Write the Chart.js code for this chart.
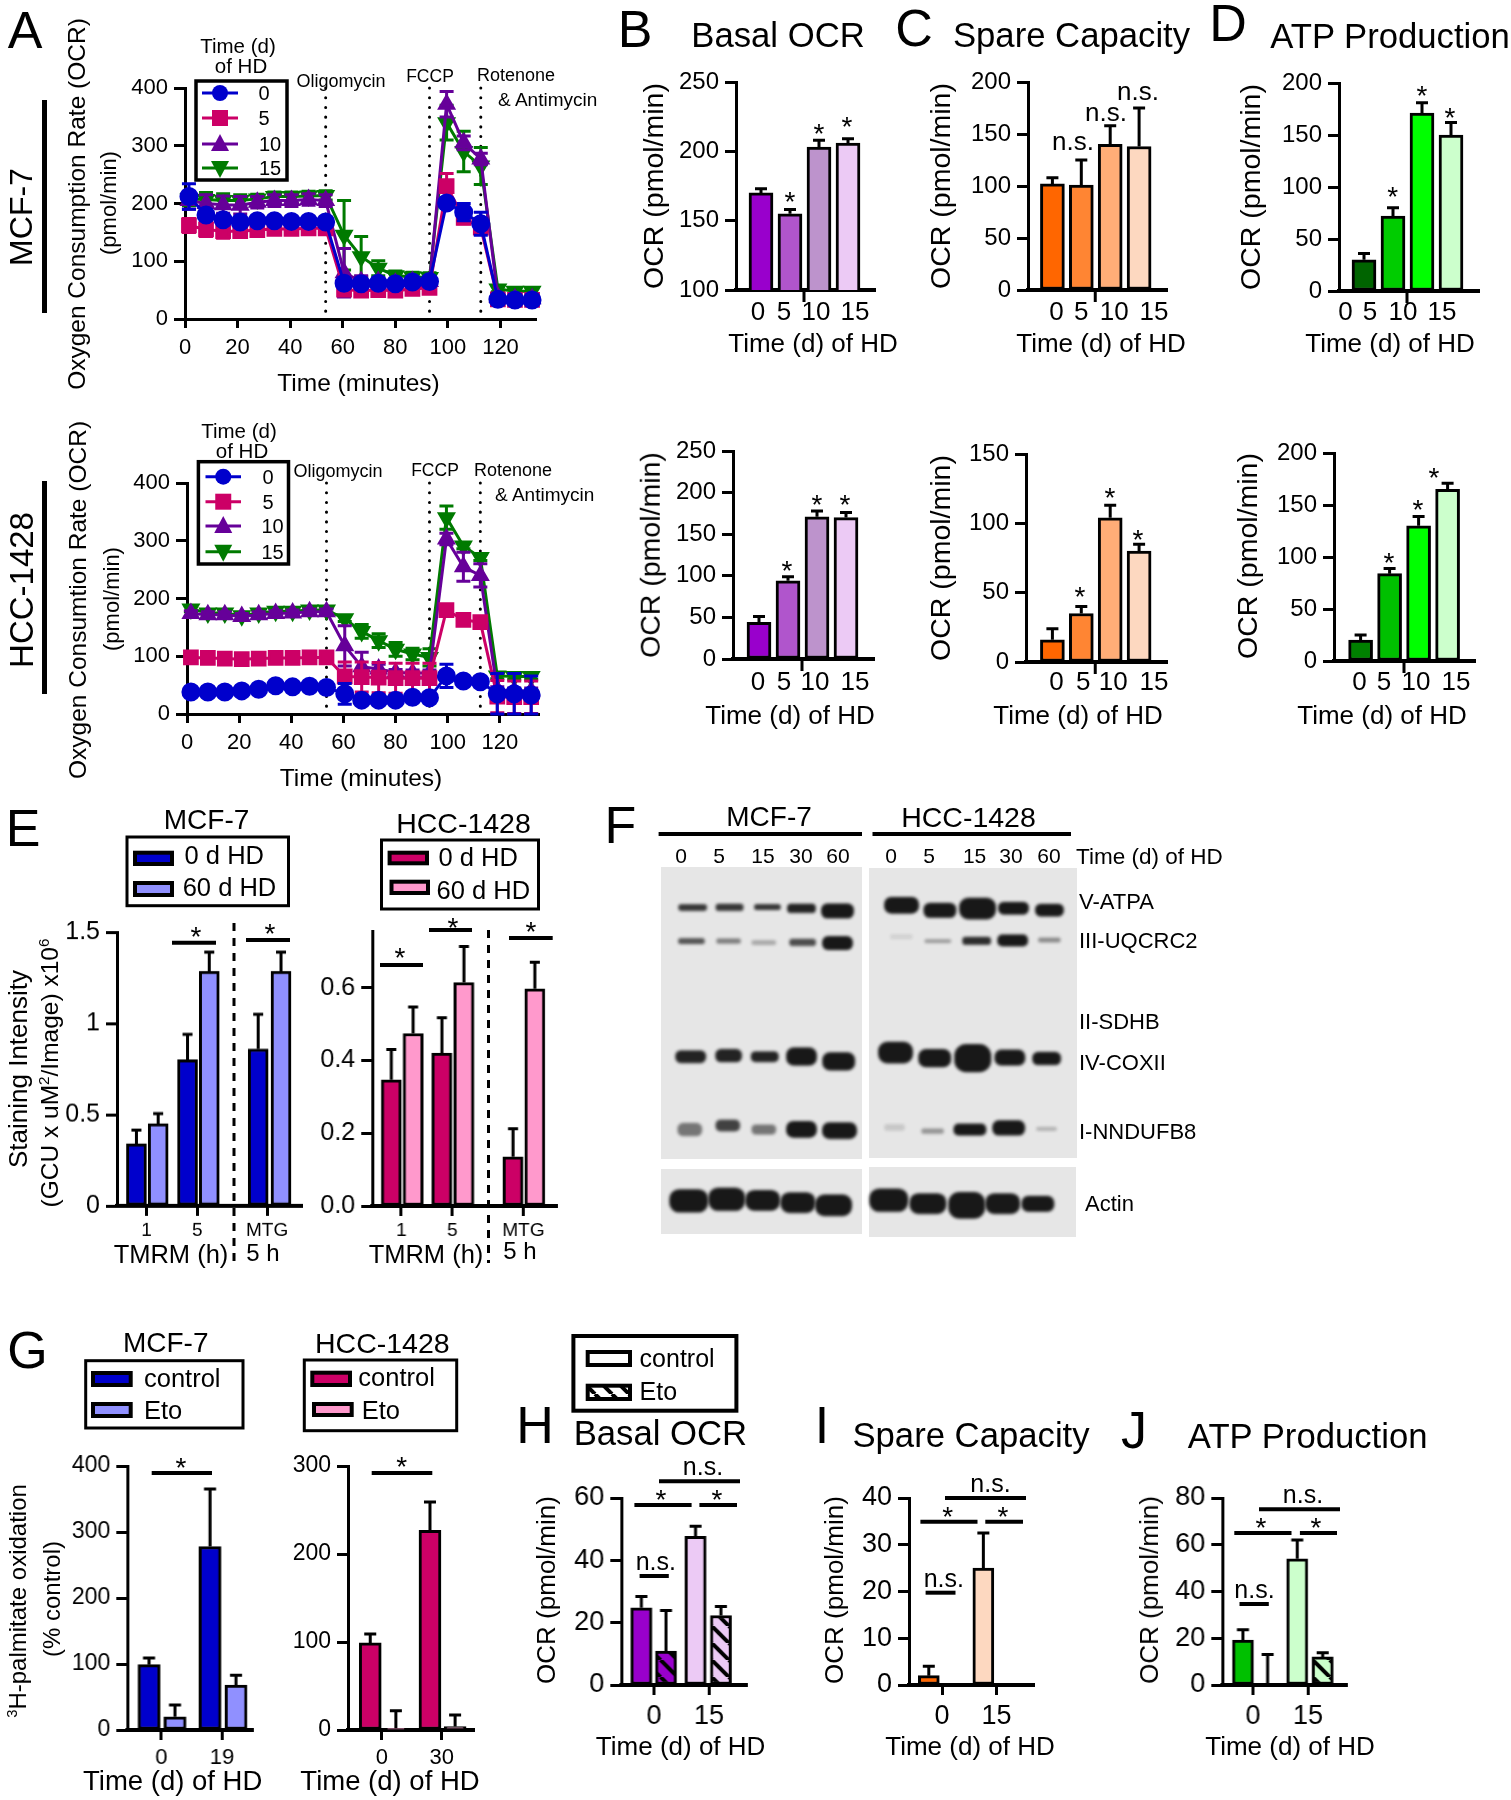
<!DOCTYPE html>
<html>
<head>
<meta charset="utf-8">
<title>Mitochondrial respiration panels</title>
<script src="https://cdn.jsdelivr.net/npm/chart.js@4"></script>
<style>
  html, body { margin: 0; background: #fff; }
  #page { position: relative; width: 1511px; height: 1800px; overflow: hidden; font-family: "Liberation Sans", Arial, sans-serif; color: #000; }
  #page canvas { position: absolute; }
  .t { position: absolute; white-space: nowrap; line-height: 1; }
  .t sup { font-size: .62em; line-height: 0; }
  .blot { position: absolute; background: #e6e6e6; }
</style>
</head>
<body>
<div id="page"></div>
<script>
// seahorse traces, panel A
const seahorseTimes = [1.5, 8, 14.5, 21, 27.5, 34, 40.5, 47, 53.5, 60.5, 67, 73.5, 80, 86.5, 93, 99.5, 106, 112.5, 119, 125.5, 132];
const injectionTimes = [53.5, 93, 112.5];
const hdDays = ["0", "5", "10", "15"];

const mcfTrace0 = [212, 180, 172, 168, 170, 170, 169, 169, 168, 62, 61, 62, 61, 64, 65, 201, 185, 165, 34, 33, 33];
const mcfErr0 = [22, 8, 6, 5, 5, 5, 5, 5, 5, 5, 5, 5, 5, 5, 5, 5, 15, 20, 3, 3, 3];
const mcfTrace5 = [162, 155, 152, 152, 154, 156, 156, 157, 157, 51, 49, 50, 49, 52, 54, 230, 175, 158, 34, 33, 33];
const mcfErr5 = [12, 12, 12, 10, 8, 8, 8, 8, 8, 5, 5, 5, 5, 5, 5, 22, 10, 10, 5, 5, 5];
const mcfTrace10 = [205, 200, 198, 197, 202, 205, 205, 207, 205, 80, 65, 65, 62, 65, 65, 372, 305, 277, 38, 35, 35];
const mcfErr10 = [15, 15, 15, 15, 10, 10, 10, 10, 10, 42, 10, 6, 6, 6, 6, 22, 12, 10, 3, 3, 3];
const mcfTrace15 = [208, 207, 205, 205, 208, 212, 212, 213, 214, 145, 108, 88, 75, 73, 72, 340, 290, 265, 52, 48, 48];
const mcfErr15 = [12, 12, 12, 10, 8, 8, 8, 8, 8, 60, 35, 13, 8, 8, 8, 30, 35, 32, 5, 5, 5];

const hccTrace0 = [38, 38, 38, 40, 43, 49, 47, 48, 46, 35, 24, 24, 24, 29, 28, 66, 57, 56, 35, 35, 33];
const hccErr0 = [3, 3, 3, 3, 3, 3, 3, 3, 3, 18, 5, 3, 3, 3, 3, 20, 5, 5, 35, 35, 33];
const hccTrace5 = [98, 97, 96, 95, 96, 97, 97, 98, 98, 65, 64, 63, 62, 62, 62, 180, 163, 159, 30, 29, 29];
const hccErr5 = [3, 3, 3, 3, 3, 3, 3, 3, 3, 25, 26, 26, 26, 26, 26, 5, 5, 5, 28, 28, 28];
const hccTrace10 = [174, 172, 172, 169, 172, 174, 175, 177, 177, 118, 82, 78, 72, 71, 71, 303, 255, 240, 42, 40, 40];
const hccErr10 = [5, 5, 5, 5, 5, 5, 5, 5, 5, 35, 25, 8, 5, 5, 5, 10, 25, 20, 5, 5, 5];
const hccTrace15 = [182, 175, 175, 170, 175, 178, 178, 180, 180, 165, 143, 127, 112, 104, 98, 340, 291, 271, 66, 65, 65];
const hccErr15 = [5, 5, 5, 5, 5, 5, 5, 5, 5, 5, 12, 12, 12, 10, 15, 20, 5, 5, 5, 5, 5];

// bars, panels B C D
const basalMcf = [170, 155, 203, 206];
const basalMcfErr = [3, 3, 5, 3];
const spareMcf = [102, 101, 140, 138];
const spareMcfErr = [6, 24, 18, 37];
const atpMcf = [30, 72, 171, 150];
const atpMcfErr = [6, 8, 10, 12];
const basalHcc = [44, 94, 171, 170];
const basalHccErr = [7, 5, 7, 6];
const spareHcc = [16, 35, 104, 80];
const spareHccErr = [8, 5, 9, 5];
const atpHcc = [20, 84, 130, 165];
const atpHccErr = [5, 5, 9, 6];

// panel E
const tmrmLabels = ["1", "5", "MTG"];
const stainMcf = [0.34, 0.45, 0.8, 1.285, 0.86, 1.285];
const stainMcfErr = [0.075, 0.055, 0.14, 0.105, 0.19, 0.105];
const stainHcc = [0.347, 0.474, 0.42, 0.614, 0.135, 0.597];
const stainHccErr = [0.083, 0.073, 0.097, 0.099, 0.077, 0.073];

// panel G
const palmMcf = [99, 20, 278, 68];
const palmMcfErr = [10, 18, 87, 15];
const palmHcc = [99, 2, 227, 4];
const palmHccErr = [10, 20, 32, 13];

// panels H I J
const basalEto = [24.8, 10.9, 47.7, 22.3];
const basalEtoErr = [3.6, 13, 3.2, 2.9];
const spareEto = [2, 0, 25, 0];
const spareEtoErr = [2, 0, 7.5, 0];
const atpEto = [19.2, 0, 54, 12];
const atpEtoErr = [4.4, 13, 8, 1.8];

// western blot, panel F: position on the film, band size and density
const vatpaX = [215, 307, 402, 487, 577, 737, 833, 927, 1017, 1107];
const vatpaY = [340, 340, 338, 343, 350, 333, 348, 343, 342, 348];
const vatpaW = [70, 68, 65, 70, 80, 85, 80, 90, 75, 70];
const vatpaH = [20, 22, 18, 28, 45, 50, 45, 65, 38, 38];
const vatpaD = [0.85, 0.85, 0.85, 0.95, 1, 1, 1, 1, 1, 1];
const uqcrcX = [212, 305, 393, 490, 577, 737, 828, 925, 1015, 1107];
const uqcrcY = [443, 444, 448, 448, 449, 430, 443, 442, 441, 440];
const uqcrcW = [65, 60, 60, 65, 75, 55, 65, 70, 75, 55];
const uqcrcH = [18, 16, 14, 22, 42, 14, 12, 24, 36, 14];
const uqcrcD = [0.7, 0.5, 0.3, 0.75, 1, 0.1, 0.35, 0.9, 1, 0.45];
const coxX = [210, 305, 395, 487, 580, 722, 820, 915, 1008, 1100];
const coxY = [800, 797, 800, 800, 815, 787, 805, 805, 802, 806];
const coxW = [75, 65, 68, 75, 80, 85, 80, 90, 75, 70];
const coxH = [38, 40, 32, 55, 55, 65, 55, 85, 48, 40];
const coxD = [0.95, 0.95, 0.95, 1, 1, 1, 1, 1, 1, 1];
const ndufX = [208, 303, 393, 487, 582, 720, 815, 908, 1005, 1100];
const ndufY = [1025, 1012, 1024, 1024, 1028, 1018, 1030, 1024, 1020, 1022];
const ndufW = [60, 60, 60, 75, 85, 50, 55, 80, 80, 50];
const ndufH = [40, 35, 30, 50, 50, 20, 16, 36, 46, 12];
const ndufD = [0.55, 0.8, 0.55, 1, 1, 0.15, 0.4, 1, 1, 0.25];
const actinX = [205, 300, 390, 478, 567, 705, 803, 900, 990, 1078];
const actinY = [1245, 1240, 1243, 1250, 1258, 1243, 1253, 1258, 1253, 1253];
const actinW = [95, 90, 85, 85, 90, 95, 90, 90, 85, 80];
const actinH = [70, 70, 62, 62, 65, 70, 62, 80, 62, 48];
const actinD = [1, 1, 1, 1, 1, 1, 1, 1, 1, 1];

const BLUE = "#0000cc", BLUE_L = "#9090ff", PINK = "#cc0066", PINK_L = "#ff99cc", VIOLET = "#660099", FOREST = "#007a00";
const PURPLES = ["#9900cc", "#b055cc", "#bd93cc", "#eccaf5"];
const ORANGES = ["#ff6600", "#ff8533", "#ffad77", "#fdd8c0"];
const GREENS_TOP = ["#006400", "#00cc00", "#00ff00", "#ccffcc"];
const GREENS_LOW = ["#008000", "#00c000", "#00ff00", "#ccffcc"];

const page = document.getElementById("page");
Chart.defaults.font.family = '"Liberation Sans", Arial, sans-serif';
Chart.defaults.color = "#000";

function label(html, x, y, size, opt = {}) {
  const d = document.createElement("div");
  d.className = "t";
  d.innerHTML = html;
  d.style.left = x + "px";
  d.style.top = y + "px";
  d.style.fontSize = size + "px";
  let tf = opt.left ? "translate(0,-50%)" : "translate(-50%,-50%)";
  if (opt.rot) tf += " rotate(-90deg)";
  d.style.transform = tf;
  page.appendChild(d);
}
function star(x, y) { label("*", x, y + 5, 28); }

function addCanvas(x, y, w, h) {
  const c = document.createElement("canvas");
  c.width = w; c.height = h;
  c.style.left = x + "px"; c.style.top = y + "px";
  c.style.width = w + "px"; c.style.height = h + "px";
  page.appendChild(c);
  return c;
}

// keeps the plot area where the panel wants it
function fixedBox(prop, size) {
  return s => { s[prop] = size; s.paddingLeft = s.paddingRight = s.paddingTop = s.paddingBottom = 0; };
}
const PAD = { l: 80, r: 30, t: 25, b: 65 };

function baseOptions() {
  return {
    responsive: false, animation: false, devicePixelRatio: 1,
    layout: { padding: { left: 0, right: PAD.r, top: PAD.t, bottom: 0 } },
    plugins: { legend: { display: false }, tooltip: { enabled: false }, title: { display: false } }
  };
}

const seahorseMarks = {
  id: "seahorseMarks",
  beforeDatasetsDraw(chart) {
    const { ctx, scales: { x, y } } = chart;
    ctx.save();
    ctx.strokeStyle = "#000"; ctx.lineWidth = 3; ctx.lineCap = "round"; ctx.setLineDash([0.1, 9.6]);
    injectionTimes.forEach(t => {
      ctx.beginPath();
      ctx.moveTo(x.getPixelForValue(t), y.getPixelForValue(400));
      ctx.lineTo(x.getPixelForValue(t), y.getPixelForValue(0));
      ctx.stroke();
    });
    ctx.restore();
  },
  beforeDatasetDraw(chart, args) {
    const { ctx, scales: { x, y } } = chart;
    const ds = chart.data.datasets[args.index];
    ctx.save();
    ctx.strokeStyle = ds.borderColor; ctx.lineWidth = 3;
    ds.data.forEach((p, i) => {
      const e = ds.errs[i], px = x.getPixelForValue(p.x);
      const y1 = y.getPixelForValue(p.y + e), y2 = y.getPixelForValue(p.y - e);
      ctx.beginPath();
      ctx.moveTo(px, y1); ctx.lineTo(px, y2);
      ctx.moveTo(px - 7, y1); ctx.lineTo(px + 7, y1);
      ctx.moveTo(px - 7, y2); ctx.lineTo(px + 7, y2);
      ctx.stroke();
    });
    ctx.restore();
  }
};

function traceDataset(values, errs, color, style, rot) {
  return {
    data: values.map((v, i) => ({ x: seahorseTimes[i], y: v })), errs,
    borderColor: color, backgroundColor: color, borderWidth: 3, tension: 0, clip: false,
    pointStyle: style, pointRotation: rot || 0, pointRadius: style === "rect" ? 9 : 8,
    pointBorderColor: color, pointBackgroundColor: color
  };
}

function traceChart(p) {
  const c = addCanvas(p.left - PAD.l, p.top - PAD.t, p.right - p.left + PAD.l + PAD.r, p.bottom - p.top + PAD.t + PAD.b);
  const opts = baseOptions();
  opts.scales = {
    x: {
      type: "linear", min: 0, max: p.xMax, afterFit: fixedBox("height", PAD.b),
      ticks: { stepSize: 20, includeBounds: false, font: { size: 22 }, color: "#000", padding: 7, maxRotation: 0 },
      grid: { drawOnChartArea: false, tickLength: 9, tickWidth: 3, tickColor: "#000" },
      border: { width: 3, color: "#000" }
    },
    y: {
      min: 0, max: 400, afterFit: fixedBox("width", PAD.l),
      ticks: { stepSize: 100, font: { size: 22 }, color: "#000", padding: 6 },
      grid: { drawOnChartArea: false, tickLength: 11, tickWidth: 3, tickColor: "#000" },
      border: { width: 3, color: "#000" }
    }
  };
  new Chart(c, { type: "line", data: { datasets: p.datasets }, options: opts, plugins: [seahorseMarks] });
}

const barExtras = {
  id: "barExtras",
  afterDatasetsDraw(chart) {
    const { ctx, scales: { x, y } } = chart;
    const ds = chart.data.datasets[0];
    ctx.save();
    ctx.strokeStyle = "#000"; ctx.lineWidth = 3;
    ds.data.forEach((p, i) => {
      const e = ds.errs[i];
      if (!e) return;
      const px = x.getPixelForValue(p.x), y0 = y.getPixelForValue(p.y), y1 = y.getPixelForValue(p.y + e);
      ctx.beginPath();
      ctx.moveTo(px, y0); ctx.lineTo(px, y1);
      ctx.moveTo(px - ds.capW, y1); ctx.lineTo(px + ds.capW, y1);
      ctx.stroke();
    });
    if (ds.midTick !== undefined) {
      const mx = x.getPixelForValue(ds.midTick);
      ctx.beginPath();
      ctx.moveTo(mx, chart.chartArea.bottom); ctx.lineTo(mx, chart.chartArea.bottom + 12);
      ctx.stroke();
    }
    ctx.restore();
  }
};

function barChart(p) {
  const c = addCanvas(p.left - PAD.l, p.top - PAD.t, p.right - p.left + PAD.l + PAD.r, p.bottom - p.top + PAD.t + PAD.b);
  const toX = px => (px - p.first) / p.pitch;
  const tickVals = p.tickPx.map(toX);
  const tickLen = p.xTicks ? 10 : 0;
  const yFont = p.yFont || 24, xFont = p.xFont || 26;
  const opts = baseOptions();
  opts.scales = {
    x: {
      type: "linear", offset: false, min: toX(p.left), max: toX(p.right), afterFit: fixedBox("height", PAD.b),
      afterBuildTicks: s => { s.ticks = tickVals.map(v => ({ value: v })); },
      ticks: {
        callback: (v, i) => p.tickLabels[i], autoSkip: false, maxRotation: 0, minRotation: 0,
        font: { size: xFont }, color: "#000", padding: Math.max(0, p.labelY - p.bottom - tickLen - xFont * 0.6)
      },
      grid: { offset: false, drawOnChartArea: false, drawTicks: !!p.xTicks, tickLength: tickLen, tickWidth: 3, tickColor: "#000" },
      border: { width: p.axisW || 4, color: "#000" }
    },
    y: {
      min: p.yMin, max: p.yMax, afterFit: fixedBox("width", PAD.l),
      ticks: {
        stepSize: p.yStep, includeBounds: false, font: { size: yFont }, color: "#000", padding: 6,
        callback: p.yFormat || (v => String(v))
      },
      grid: { drawOnChartArea: false, tickLength: 11, tickWidth: 3, tickColor: "#000" },
      border: { width: 3, color: "#000" }
    }
  };
  new Chart(c, {
    type: "bar",
    data: {
      datasets: [{
        data: p.values.map((v, i) => ({ x: p.slots[i], y: v })), errs: p.errors, capW: p.capW || 6,
        midTick: p.midPx !== undefined ? toX(p.midPx) : undefined,
        backgroundColor: p.colors, borderColor: "#000", borderWidth: 3, borderSkipped: false, barThickness: p.barW
      }]
    },
    options: opts,
    plugins: [barExtras]
  });
}

function hatch(fill) {
  const s = document.createElement("canvas");
  s.width = s.height = 17;
  const g = s.getContext("2d");
  g.fillStyle = fill; g.fillRect(0, 0, 17, 17);
  g.strokeStyle = "#000"; g.lineWidth = 4;
  [-17, 0, 17].forEach(o => { g.beginPath(); g.moveTo(o, 0); g.lineTo(o + 17, 17); g.stroke(); });
  return g.createPattern(s, "repeat");
}

// panel A
traceChart({
  left: 185, right: 536, top: 88, bottom: 319, xMax: 133.5,
  datasets: [
    traceDataset(mcfTrace0, mcfErr0, BLUE, "circle"),
    traceDataset(mcfTrace5, mcfErr5, PINK, "rect"),
    traceDataset(mcfTrace10, mcfErr10, VIOLET, "triangle"),
    traceDataset(mcfTrace15, mcfErr15, FOREST, "triangle", 180)
  ]
});
traceChart({
  left: 187, right: 539, top: 483, bottom: 714, xMax: 135,
  datasets: [
    traceDataset(hccTrace0, hccErr0, BLUE, "circle"),
    traceDataset(hccTrace5, hccErr5, PINK, "rect"),
    traceDataset(hccTrace10, hccErr10, VIOLET, "triangle"),
    traceDataset(hccTrace15, hccErr15, FOREST, "triangle", 180)
  ]
});

// panels B C D, top row
barChart({ left: 736, right: 875, top: 82, bottom: 290, first: 761, pitch: 29, barW: 24, slots: [0, 1, 2, 3], yMin: 100, yMax: 250, yStep: 50,
  values: basalMcf, errors: basalMcfErr, colors: PURPLES, tickPx: [758, 784, 816, 855], tickLabels: hdDays, labelY: 313, midPx: 804 });
barChart({ left: 1027.5, right: 1167, top: 82, bottom: 290, first: 1052, pitch: 29, barW: 24, slots: [0, 1, 2, 3], yMin: 0, yMax: 200, yStep: 50,
  values: spareMcf, errors: spareMcfErr, colors: ORANGES, tickPx: [1056, 1081, 1114, 1154], tickLabels: hdDays, labelY: 313, midPx: 1095 });
barChart({ left: 1339, right: 1479, top: 83, bottom: 291, first: 1364, pitch: 29, barW: 24, slots: [0, 1, 2, 3], yMin: 0, yMax: 200, yStep: 50,
  values: atpMcf, errors: atpMcfErr, colors: GREENS_TOP, tickPx: [1345.5, 1370, 1403, 1442], tickLabels: hdDays, labelY: 313, midPx: 1407 });

// bottom row
barChart({ left: 733, right: 874, top: 451, bottom: 659, first: 759, pitch: 29, barW: 24, slots: [0, 1, 2, 3], yMin: 0, yMax: 250, yStep: 50,
  values: basalHcc, errors: basalHccErr, colors: PURPLES, tickPx: [758, 784, 815, 855], tickLabels: hdDays, labelY: 683, midPx: 802 });
barChart({ left: 1025.5, right: 1167, top: 454, bottom: 662, first: 1052, pitch: 29, barW: 24, slots: [0, 1, 2, 3], yMin: 0, yMax: 150, yStep: 50,
  values: spareHcc, errors: spareHccErr, colors: ORANGES, tickPx: [1056, 1083, 1113, 1154], tickLabels: hdDays, labelY: 683, midPx: 1095 });
barChart({ left: 1334, right: 1475, top: 453, bottom: 661, first: 1360.6, pitch: 29, barW: 24, slots: [0, 1, 2, 3], yMin: 0, yMax: 200, yStep: 50,
  values: atpHcc, errors: atpHccErr, colors: GREENS_LOW, tickPx: [1359.5, 1384, 1416, 1456], tickLabels: hdDays, labelY: 683, midPx: 1404 });

// panel E
barChart({ left: 116.5, right: 302, top: 932, bottom: 1205.7, first: 136, pitch: 21.8, barW: 20, slots: [0, 1, 2.35, 3.35, 5.6, 6.65], yMin: 0, yMax: 1.5, yStep: 0.5,
  values: stainMcf, errors: stainMcfErr, colors: [BLUE, BLUE_L, BLUE, BLUE_L, BLUE, BLUE_L], tickPx: [146, 197, 267], tickLabels: tmrmLabels,
  labelY: 1230.7, xFont: 19, yFont: 25, xTicks: true, capW: 5 });
barChart({ left: 372, right: 556.5, top: 930.7, bottom: 1205.7, first: 391, pitch: 21.8, barW: 20, slots: [0, 1, 2.32, 3.33, 5.58, 6.58], yMin: 0, yMax: 0.7557, yStep: 0.2,
  yFormat: v => v.toFixed(1), values: stainHcc, errors: stainHccErr, colors: [PINK, PINK_L, PINK, PINK_L, PINK, PINK_L], tickPx: [401, 452, 523], tickLabels: tmrmLabels,
  labelY: 1230.7, xFont: 19, yFont: 25, xTicks: true, capW: 5 });

// panel G
barChart({ left: 127.3, right: 253, top: 1465.7, bottom: 1730, first: 149, pitch: 26, barW: 22, slots: [0, 1, 2.35, 3.35], yMin: 0, yMax: 400, yStep: 100, yFont: 23, xFont: 22,
  values: palmMcf, errors: palmMcfErr, colors: [BLUE, BLUE_L, BLUE, BLUE_L], tickPx: [161.3, 222], tickLabels: ["0", "19"], labelY: 1758, xTicks: true });
barChart({ left: 347.7, right: 474, top: 1465.7, bottom: 1730, first: 370, pitch: 25.7, barW: 22, slots: [0, 1, 2.33, 3.31], yMin: 0, yMax: 300, yStep: 100, yFont: 23, xFont: 22,
  values: palmHcc, errors: palmHccErr, colors: [PINK, PINK_L, PINK, PINK_L], tickPx: [381.7, 441.7], tickLabels: ["0", "30"], labelY: 1758, xTicks: true });

// panels H I J
barChart({ left: 621.4, right: 746.8, top: 1497.5, bottom: 1684.5, first: 641.4, pitch: 24.6, barW: 21, slots: [0, 1, 2.2, 3.23], yMin: 0, yMax: 60, yStep: 20, yFont: 27, xFont: 27,
  values: basalEto, errors: basalEtoErr, colors: [PURPLES[0], hatch(PURPLES[0]), PURPLES[3], hatch(PURPLES[3])], tickPx: [654, 709], tickLabels: ["0", "15"], labelY: 1715.7, xTicks: true });
barChart({ left: 909, right: 1034, top: 1497.5, bottom: 1684.5, first: 928.8, pitch: 24.8, barW: 21, slots: [0, 1, 2.2, 3.2], yMin: 0, yMax: 40, yStep: 10, yFont: 27, xFont: 27,
  values: spareEto, errors: spareEtoErr, colors: [ORANGES[0], ORANGES[0], ORANGES[3], ORANGES[3]], tickPx: [942, 996.5], tickLabels: ["0", "15"], labelY: 1715.7, xTicks: true });
barChart({ left: 1222.4, right: 1347, top: 1497.5, bottom: 1684.5, first: 1243, pitch: 24.7, barW: 21, slots: [0, 1, 2.2, 3.23], yMin: 0, yMax: 80, yStep: 20, yFont: 27, xFont: 27,
  values: atpEto, errors: atpEtoErr, colors: [GREENS_LOW[1], hatch(GREENS_LOW[1]), GREENS_LOW[3], hatch(GREENS_LOW[3])], tickPx: [1253, 1308], tickLabels: ["0", "15"], labelY: 1715.7, xTicks: true });

// panel F: film background, then the bands through a scatter chart
[[660.7, 866.7, 201.3, 292.3], [869, 868, 207.6, 290], [660.7, 1169, 201.3, 65], [869, 1166.7, 207, 70]].forEach(r => {
  const d = document.createElement("div");
  d.className = "blot";
  d.style.cssText = `left:${r[0]}px;top:${r[1]}px;width:${r[2]}px;height:${r[3]}px`;
  page.appendChild(d);
});

function bandImage(w, h, dark) {
  const pw = w / 2.44, ph = h / 3;
  const s = document.createElement("canvas");
  s.width = Math.ceil(pw + 14); s.height = Math.ceil(ph + 14);
  const g = s.getContext("2d");
  g.filter = "blur(1.8px)";
  g.fillStyle = `rgba(24,24,24,${dark})`;
  g.beginPath();
  g.roundRect(7, 7, pw, ph, Math.min(ph, pw) * 0.42);
  g.fill();
  return s;
}
function bandDataset(xs, ys, ws, hs, ds) {
  return {
    data: xs.map((x, i) => ({ x, y: ys[i] })), showLine: false, clip: false, pointRadius: 4,
    pointStyle: xs.map((_, i) => bandImage(ws[i], hs[i], ds[i]))
  };
}
new Chart(addCanvas(660.7, 866.7, 416, 370), {
  type: "scatter",
  data: {
    datasets: [
      bandDataset(vatpaX, vatpaY, vatpaW, vatpaH, vatpaD),
      bandDataset(uqcrcX, uqcrcY, uqcrcW, uqcrcH, uqcrcD),
      bandDataset(coxX, coxY, coxW, coxH, coxD),
      bandDataset(ndufX, ndufY, ndufW, ndufH, ndufD),
      bandDataset(actinX, actinY, actinW, actinH, actinD)
    ]
  },
  options: {
    responsive: false, animation: false, devicePixelRatio: 1,
    layout: { padding: 0 },
    plugins: { legend: { display: false }, tooltip: { enabled: false } },
    scales: {
      x: { type: "linear", display: false, min: 148, max: 1163 },
      y: { type: "linear", display: false, min: 230, max: 1340, reverse: true }
    }
  }
});

// legend boxes, significance lines, dividers on a top layer
const deco = addCanvas(0, 0, 1511, 1800);
deco.style.pointerEvents = "none";
const g = deco.getContext("2d");
function rule(x1, y1, x2, y2, w) {
  g.strokeStyle = "#000"; g.lineWidth = w; g.setLineDash([]);
  g.beginPath(); g.moveTo(x1, y1); g.lineTo(x2, y2); g.stroke();
}
function frame(x1, y1, x2, y2, w) {
  g.strokeStyle = "#000"; g.lineWidth = w; g.setLineDash([]);
  g.strokeRect(x1, y1, x2 - x1, y2 - y1);
}
function swatch(x1, y1, x2, y2, fill) {
  g.fillStyle = fill; g.fillRect(x1, y1, x2 - x1, y2 - y1);
  frame(x1, y1, x2, y2, 4);
}
function dashed(x, y1, y2) {
  g.strokeStyle = "#000"; g.lineWidth = 3; g.setLineDash([8, 7]);
  g.beginPath(); g.moveTo(x, y1); g.lineTo(x, y2); g.stroke();
  g.setLineDash([]);
}
function legendMark(kind, color, x1, x2, y) {
  const m = (x1 + x2) / 2;
  g.strokeStyle = color; g.lineWidth = 3; g.setLineDash([]);
  g.beginPath(); g.moveTo(x1, y); g.lineTo(x2, y); g.stroke();
  g.fillStyle = color;
  g.beginPath();
  if (kind === "circle") g.arc(m, y, 8, 0, Math.PI * 2);
  if (kind === "rect") g.rect(m - 8, y - 8, 16, 16);
  if (kind === "up") { g.moveTo(m, y - 10); g.lineTo(m + 9, y + 7); g.lineTo(m - 9, y + 7); g.closePath(); }
  if (kind === "down") { g.moveTo(m, y + 10); g.lineTo(m + 9, y - 7); g.lineTo(m - 9, y - 7); g.closePath(); }
  g.fill();
}
const traceMarks = [["circle", BLUE], ["rect", PINK], ["up", VIOLET], ["down", FOREST]];

// A, MCF-7
g.fillStyle = "#fff"; g.fillRect(196, 81, 91, 99);
frame(196, 81, 287, 180, 3.5);
[93, 118, 144, 168].forEach((y, i) => {
  legendMark(traceMarks[i][0], traceMarks[i][1], 202, 238, y);
  label(hdDays[i], i < 2 ? 264 : 270, y, 20);
});
// A, HCC-1428
g.fillStyle = "#fff"; g.fillRect(198.4, 461.7, 90, 102);
frame(198.4, 461.7, 288.5, 564, 3.5);
[476.7, 501.7, 526, 551.7].forEach((y, i) => {
  legendMark(traceMarks[i][0], traceMarks[i][1], 205.5, 241, y);
  label(hdDays[i], i < 2 ? 268 : 272.6, y, 20);
});
rule(44.5, 100, 44.5, 313, 5);
rule(44.5, 481, 44.5, 694, 5);

// E
frame(127, 837, 288.5, 905.7, 3);
swatch(135, 852.7, 172, 864, BLUE);
swatch(135, 883, 172, 895, BLUE_L);
frame(381.5, 840, 538.5, 909, 3);
swatch(389.6, 852.7, 427, 863.3, PINK);
swatch(391.5, 881.7, 428, 893, PINK_L);
dashed(234, 923, 1268);
dashed(488.5, 930, 1263);
rule(172, 942.7, 216, 942.7, 4);
rule(246, 940, 290, 940, 4);
rule(380, 965, 423, 965, 4);
rule(429, 930, 472, 930, 4);
rule(509, 938, 552.7, 938, 4);

// F
rule(658.6, 834, 862, 834, 4);
rule(872.5, 834, 1071, 834, 4);

// G
frame(85.7, 1360.7, 243, 1428, 3);
swatch(93, 1373, 130.7, 1385, BLUE);
swatch(93, 1404, 130.7, 1416, BLUE_L);
frame(304.3, 1360, 456.7, 1430.7, 3);
swatch(312.3, 1372.7, 350, 1385, PINK);
swatch(314, 1404, 351.7, 1415, PINK_L);
rule(151.7, 1473, 212, 1473, 4);
rule(371.7, 1473, 432.3, 1473, 4);

// H I J
frame(573.4, 1336, 736.4, 1410.7, 4);
swatch(587.7, 1352, 630, 1365, "#fff");
swatch(587.7, 1385.7, 630, 1399, hatch("#fff"));
[[659, 740, 1481.3], [634.4, 691.6, 1505], [699.4, 737, 1505], [639.6, 668.8, 1576],
 [945, 1026, 1498], [920.4, 977.5, 1521.7], [985.3, 1023, 1521.7], [925.6, 955.5, 1592.7],
 [1259, 1340, 1509.3], [1234.3, 1291.5, 1533], [1299.9, 1337, 1533], [1239.5, 1268.8, 1604]].forEach(r => rule(r[0], r[2], r[1], r[2], 4));

// all the text
[["A", 25, 30, 52], ["B", 635, 29, 52], ["C", 914, 28, 52], ["D", 1228, 23, 52], ["E", 23, 828, 52], ["F", 620.5, 825, 52],
 ["G", 27.5, 1350, 52], ["H", 535, 1425, 52], ["I", 822, 1425, 52], ["J", 1134, 1430, 52]].forEach(l => label(l[0], l[1], l[2], l[3]));

label("MCF-7", 21, 217, 32, { rot: true });
label("HCC-1428", 21, 590, 33, { rot: true });
label("Oxygen Consumption Rate (OCR)", 77, 204, 24.5, { rot: true });
label("(pmol/min)", 109, 203, 22, { rot: true });
label("Oxygen Consumtion Rate (OCR)", 78, 600, 24.5, { rot: true });
label("(pmol/min)", 112, 599, 22, { rot: true });
label("Time (d)", 238, 46, 20.5); label("of HD", 241, 66, 20.5);
label("Time (d)", 239, 431, 20.5); label("of HD", 242, 451, 20.5);
label("Oligomycin", 341, 81, 18); label("FCCP", 430, 77, 17.5);
label("Rotenone", 477, 75, 18, { left: true }); label("&amp; Antimycin", 498, 99, 19, { left: true });
label("Oligomycin", 338, 471, 18); label("FCCP", 435, 471, 17.5);
label("Rotenone", 474, 470, 18, { left: true }); label("&amp; Antimycin", 495, 494, 19, { left: true });
label("Time (minutes)", 358.5, 383, 24.5); label("Time (minutes)", 361, 778, 24.5);

label("Basal OCR", 778, 35, 34.7); label("Spare Capacity", 1071.5, 35, 34.7); label("ATP Production", 1390, 36, 34.7);
[[653, 186], [940, 186], [1249.5, 187], [650, 555], [940, 557.5], [1247, 556]].forEach(p => label("OCR (pmol/min)", p[0], p[1], 28.5, { rot: true }));
[[813, 343], [1101, 343], [1390, 343], [790, 715], [1078, 715], [1382, 715]].forEach(p => label("Time (d) of HD", p[0], p[1], 26));
[[790, 197], [819, 129], [847, 122], [1392.6, 192], [1422, 91], [1450, 113],
 [787, 566], [817, 500], [845, 500], [1080, 592], [1110, 493], [1138, 535], [1389, 558], [1418, 505], [1434, 473]].forEach(p => star(p[0], p[1]));
[[1073, 141], [1106, 112], [1138, 91]].forEach(p => label("n.s.", p[0], p[1], 26));

label("MCF-7", 206.5, 820, 28); label("HCC-1428", 463.5, 823, 28.5);
label("0 d HD", 184.6, 855.7, 25.5, { left: true }); label("60 d HD", 182.7, 887.7, 25.5, { left: true });
label("0 d HD", 438.5, 858, 25.5, { left: true }); label("60 d HD", 436.5, 891, 25.5, { left: true });
label("Staining Intensity", 18, 1069, 26, { rot: true });
label("(GCU x uM<sup>2</sup>/Image) x10<sup>6</sup>", 50, 1073, 24.5, { rot: true });
label("TMRM (h)", 171, 1255, 25.5); label("5 h", 263, 1252.7, 24);
label("TMRM (h)", 426, 1255, 25.5); label("5 h", 520, 1250.7, 24);
[[196, 931.7], [270, 929], [400, 953], [453, 922.7], [531, 927]].forEach(p => star(p[0], p[1]));

label("MCF-7", 769, 816.7, 28); label("HCC-1428", 968.5, 817, 28.5);
[[681, "0"], [719, "5"], [763, "15"], [801, "30"], [838, "60"], [891, "0"], [929, "5"], [974.6, "15"], [1011, "30"], [1049, "60"]]
  .forEach(p => label(p[1], p[0], 855, 21));
label("Time (d) of HD", 1076, 856.7, 22.5, { left: true });
[["V-ATPA", 901.7], ["III-UQCRC2", 940.7], ["II-SDHB", 1021.7], ["IV-COXII", 1063], ["I-NNDUFB8", 1132]]
  .forEach(p => label(p[0], 1079, p[1], 22, { left: true }));
label("Actin", 1085, 1204, 22, { left: true });

label("MCF-7", 165.7, 1343, 28); label("HCC-1428", 382.3, 1343, 28.5);
label("control", 144, 1379, 25.5, { left: true }); label("Eto", 144, 1410.7, 25.5, { left: true });
label("control", 358.3, 1377.7, 25.5, { left: true }); label("Eto", 361.7, 1411, 25.5, { left: true });
label("<sup>3</sup>H-palmitate oxidation", 18, 1600.7, 24, { rot: true });
label("(% control)", 52, 1599, 24, { rot: true });
label("Time (d) of HD", 172.7, 1780.7, 27.5); label("Time (d) of HD", 390, 1780.7, 27.5);
star(181, 1462.7); star(401.7, 1462);

label("control", 639.6, 1357.7, 25, { left: true }); label("Eto", 639.6, 1391, 25, { left: true });
label("Basal OCR", 660.4, 1433, 34.7); label("Spare Capacity", 971, 1435, 34.7); label("ATP Production", 1307.7, 1435.7, 34.7);
[[545.5, 1589.7], [834.4, 1589.7], [1149.4, 1589.7]].forEach(p => label("OCR (pmol/min)", p[0], p[1], 26, { rot: true }));
[[680.6, 1746], [970, 1746], [1290, 1746]].forEach(p => label("Time (d) of HD", p[0], p[1], 26));
[[661, 1495], [717, 1495], [947.7, 1511.7], [1002.9, 1511.7], [1261, 1523], [1316, 1523]].forEach(p => star(p[0], p[1]));
[[703, 1466], [655.8, 1561], [990.5, 1482.7], [943.8, 1577.7], [1303, 1494], [1254.5, 1589]].forEach(p => label("n.s.", p[0], p[1], 25));
</script>
</body>
</html>
